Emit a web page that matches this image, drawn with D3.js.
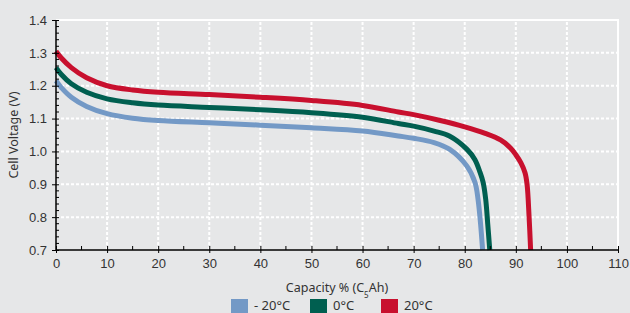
<!DOCTYPE html>
<html>
<head>
<meta charset="utf-8">
<script src="https://cdn.jsdelivr.net/npm/d3@7"></script>
<style>
  body { margin: 0; background: #e6e7e8; }
  svg { display: block; font-family: "Noto Sans", "DejaVu Sans", sans-serif; }
  .tick text { font-size: 13px; fill: #333; }
</style>
</head>
<body>
<div class="chart"></div>
<script>
const width = 630;
const height = 313;
const margin = { left: 56, right: 12, top: 20, bottom: 63 };

// capacity % (x) and cell voltage (y)
const capBlue = [0, 1, 3, 6, 10, 15, 20, 30, 40, 50, 60, 67, 70, 74, 77, 80.4, 82, 82.6, 83.1, 83.5];
const voltBlue = [1.215, 1.195, 1.165, 1.137, 1.115, 1.101, 1.094, 1.087, 1.08, 1.072, 1.062, 1.047, 1.04, 1.027, 1.007, 0.956, 0.906, 0.855, 0.78, 0.7];

const capGreen = [0, 1, 3, 6, 10, 15, 20, 30, 40, 50, 60, 67, 70, 74, 77, 80.4, 82, 83, 83.6, 84.1, 84.5, 84.9];
const voltGreen = [1.255, 1.235, 1.206, 1.18, 1.16, 1.148, 1.141, 1.134, 1.127, 1.118, 1.104, 1.085, 1.077, 1.062, 1.047, 1.007, 0.975, 0.936, 0.906, 0.855, 0.78, 0.7];

const capRed = [0, 1, 3, 6, 10, 15, 20, 30, 40, 50, 60, 67, 70, 75, 80, 84, 87, 89, 90, 91, 91.8, 92.2, 92.6, 92.9];
const voltRed = [1.305, 1.285, 1.255, 1.224, 1.2, 1.187, 1.18, 1.173, 1.165, 1.155, 1.14, 1.12, 1.112, 1.095, 1.075, 1.055, 1.035, 1.01, 0.99, 0.965, 0.935, 0.9, 0.8, 0.7];

const seriesNames = ["- 20°C", "0°C", "20°C"];
const seriesColors = ["#7399c6", "#005f50", "#c8102e"];

const xTicks = [0, 10, 20, 30, 40, 50, 60, 70, 80, 90, 100, 110];
const yTicks = [0.7, 0.8, 0.9, 1.0, 1.1, 1.2, 1.3, 1.4];

const series = [
  { name: seriesNames[0], color: seriesColors[0], pts: capBlue.map((c, i) => [c, voltBlue[i]]) },
  { name: seriesNames[1], color: seriesColors[1], pts: capGreen.map((c, i) => [c, voltGreen[i]]) },
  { name: seriesNames[2], color: seriesColors[2], pts: capRed.map((c, i) => [c, voltRed[i]]) }
];

const svg = d3.select(".chart").append("svg")
  .attr("width", width).attr("height", height);

const x = d3.scaleLinear().domain([0, 110]).range([margin.left, width - margin.right]);
const y = d3.scaleLinear().domain([0.7, 1.4]).range([height - margin.bottom, margin.top]);

// grid
const grid = svg.append("g");
grid.selectAll(".vg").data(xTicks.slice(1, -1)).enter().append("line")
  .attr("x1", d => x(d)).attr("x2", d => x(d))
  .attr("y1", y(0.7)).attr("y2", y(1.4))
  .attr("stroke", "#fff").attr("stroke-width", 2).attr("stroke-dasharray", "3,2");
grid.selectAll(".hg").data(yTicks.slice(1, -1)).enter().append("line")
  .attr("x1", x(0)).attr("x2", x(110))
  .attr("y1", d => y(d)).attr("y2", d => y(d))
  .attr("stroke", "#fff").attr("stroke-width", 2).attr("stroke-dasharray", "3,2");
// white frame top and right
grid.append("path")
  .attr("d", `M${x(0)},${y(1.4)}H${x(110)}V${y(0.7)}`)
  .attr("fill", "none").attr("stroke", "#fff").attr("stroke-width", 2);

// curves
const line = d3.line().x(d => x(d[0])).y(d => y(d[1])).curve(d3.curveCatmullRom.alpha(0.5));
svg.selectAll(".curve").data(series).enter().append("path")
  .attr("d", d => line(d.pts))
  .attr("fill", "none")
  .attr("stroke", d => d.color)
  .attr("stroke-width", 5)
  .attr("stroke-linejoin", "round");

// minor ticks
const minorX = d3.range(5, 110, 10);
const minorY = d3.range(0.72, 1.4, 0.02).filter(v => Math.abs(v * 10 - Math.round(v * 10)) > 0.01);
svg.append("g").selectAll("line").data(minorX).enter().append("line")
  .attr("x1", d => x(d)).attr("x2", d => x(d))
  .attr("y1", y(0.7)).attr("y2", y(0.7) - 4)
  .attr("stroke", "#000");
svg.append("g").selectAll("line").data(minorY).enter().append("line")
  .attr("x1", x(0)).attr("x2", x(0) + 3)
  .attr("y1", d => y(d)).attr("y2", d => y(d))
  .attr("stroke", "#000");

// axes
const xAxis = svg.append("g")
  .attr("transform", `translate(0,${y(0.7)})`)
  .call(d3.axisBottom(x).tickValues(xTicks).tickSize(3).tickPadding(6));
xAxis.selectAll(".tick line").attr("y1", -4);
xAxis.select(".domain").attr("d", `M${x(0)},0H${x(110)}`).attr("stroke-width", 1.5);

const yAxis = svg.append("g")
  .attr("transform", `translate(${x(0)},0)`)
  .call(d3.axisLeft(y).tickValues(yTicks).tickFormat(d3.format(".1f")).tickSize(4).tickPadding(5));
yAxis.selectAll(".tick line").attr("x1", 3);
yAxis.select(".domain").attr("d", `M0,${y(1.4)}V${y(0.7)}`).attr("stroke-width", 1.5);

svg.selectAll(".tick text").attr("fill", "#333").style("font-size", "13px");

// axis titles
svg.append("text")
  .attr("x", 337).attr("y", 292)
  .attr("text-anchor", "middle")
  .style("font-size", "12.5px").attr("fill", "#333")
  .html('Capacity % (C<tspan baseline-shift="sub" font-size="8">5</tspan>Ah)');

svg.append("text")
  .attr("transform", "translate(18,135) rotate(-90)")
  .attr("text-anchor", "middle")
  .style("font-size", "12.5px").attr("fill", "#333")
  .text("Cell Voltage (V)");

// legend
const legendX = [231, 310, 381];
const lg = svg.append("g").selectAll("g").data(series).enter().append("g")
  .attr("transform", (d, i) => `translate(${legendX[i]},299)`);
lg.append("rect").attr("width", 17).attr("height", 14).attr("fill", d => d.color);
lg.append("text").attr("x", 23).attr("y", 11)
  .style("font-size", "13px").attr("fill", "#333")
  .text(d => d.name);
</script>
</body>
</html>
